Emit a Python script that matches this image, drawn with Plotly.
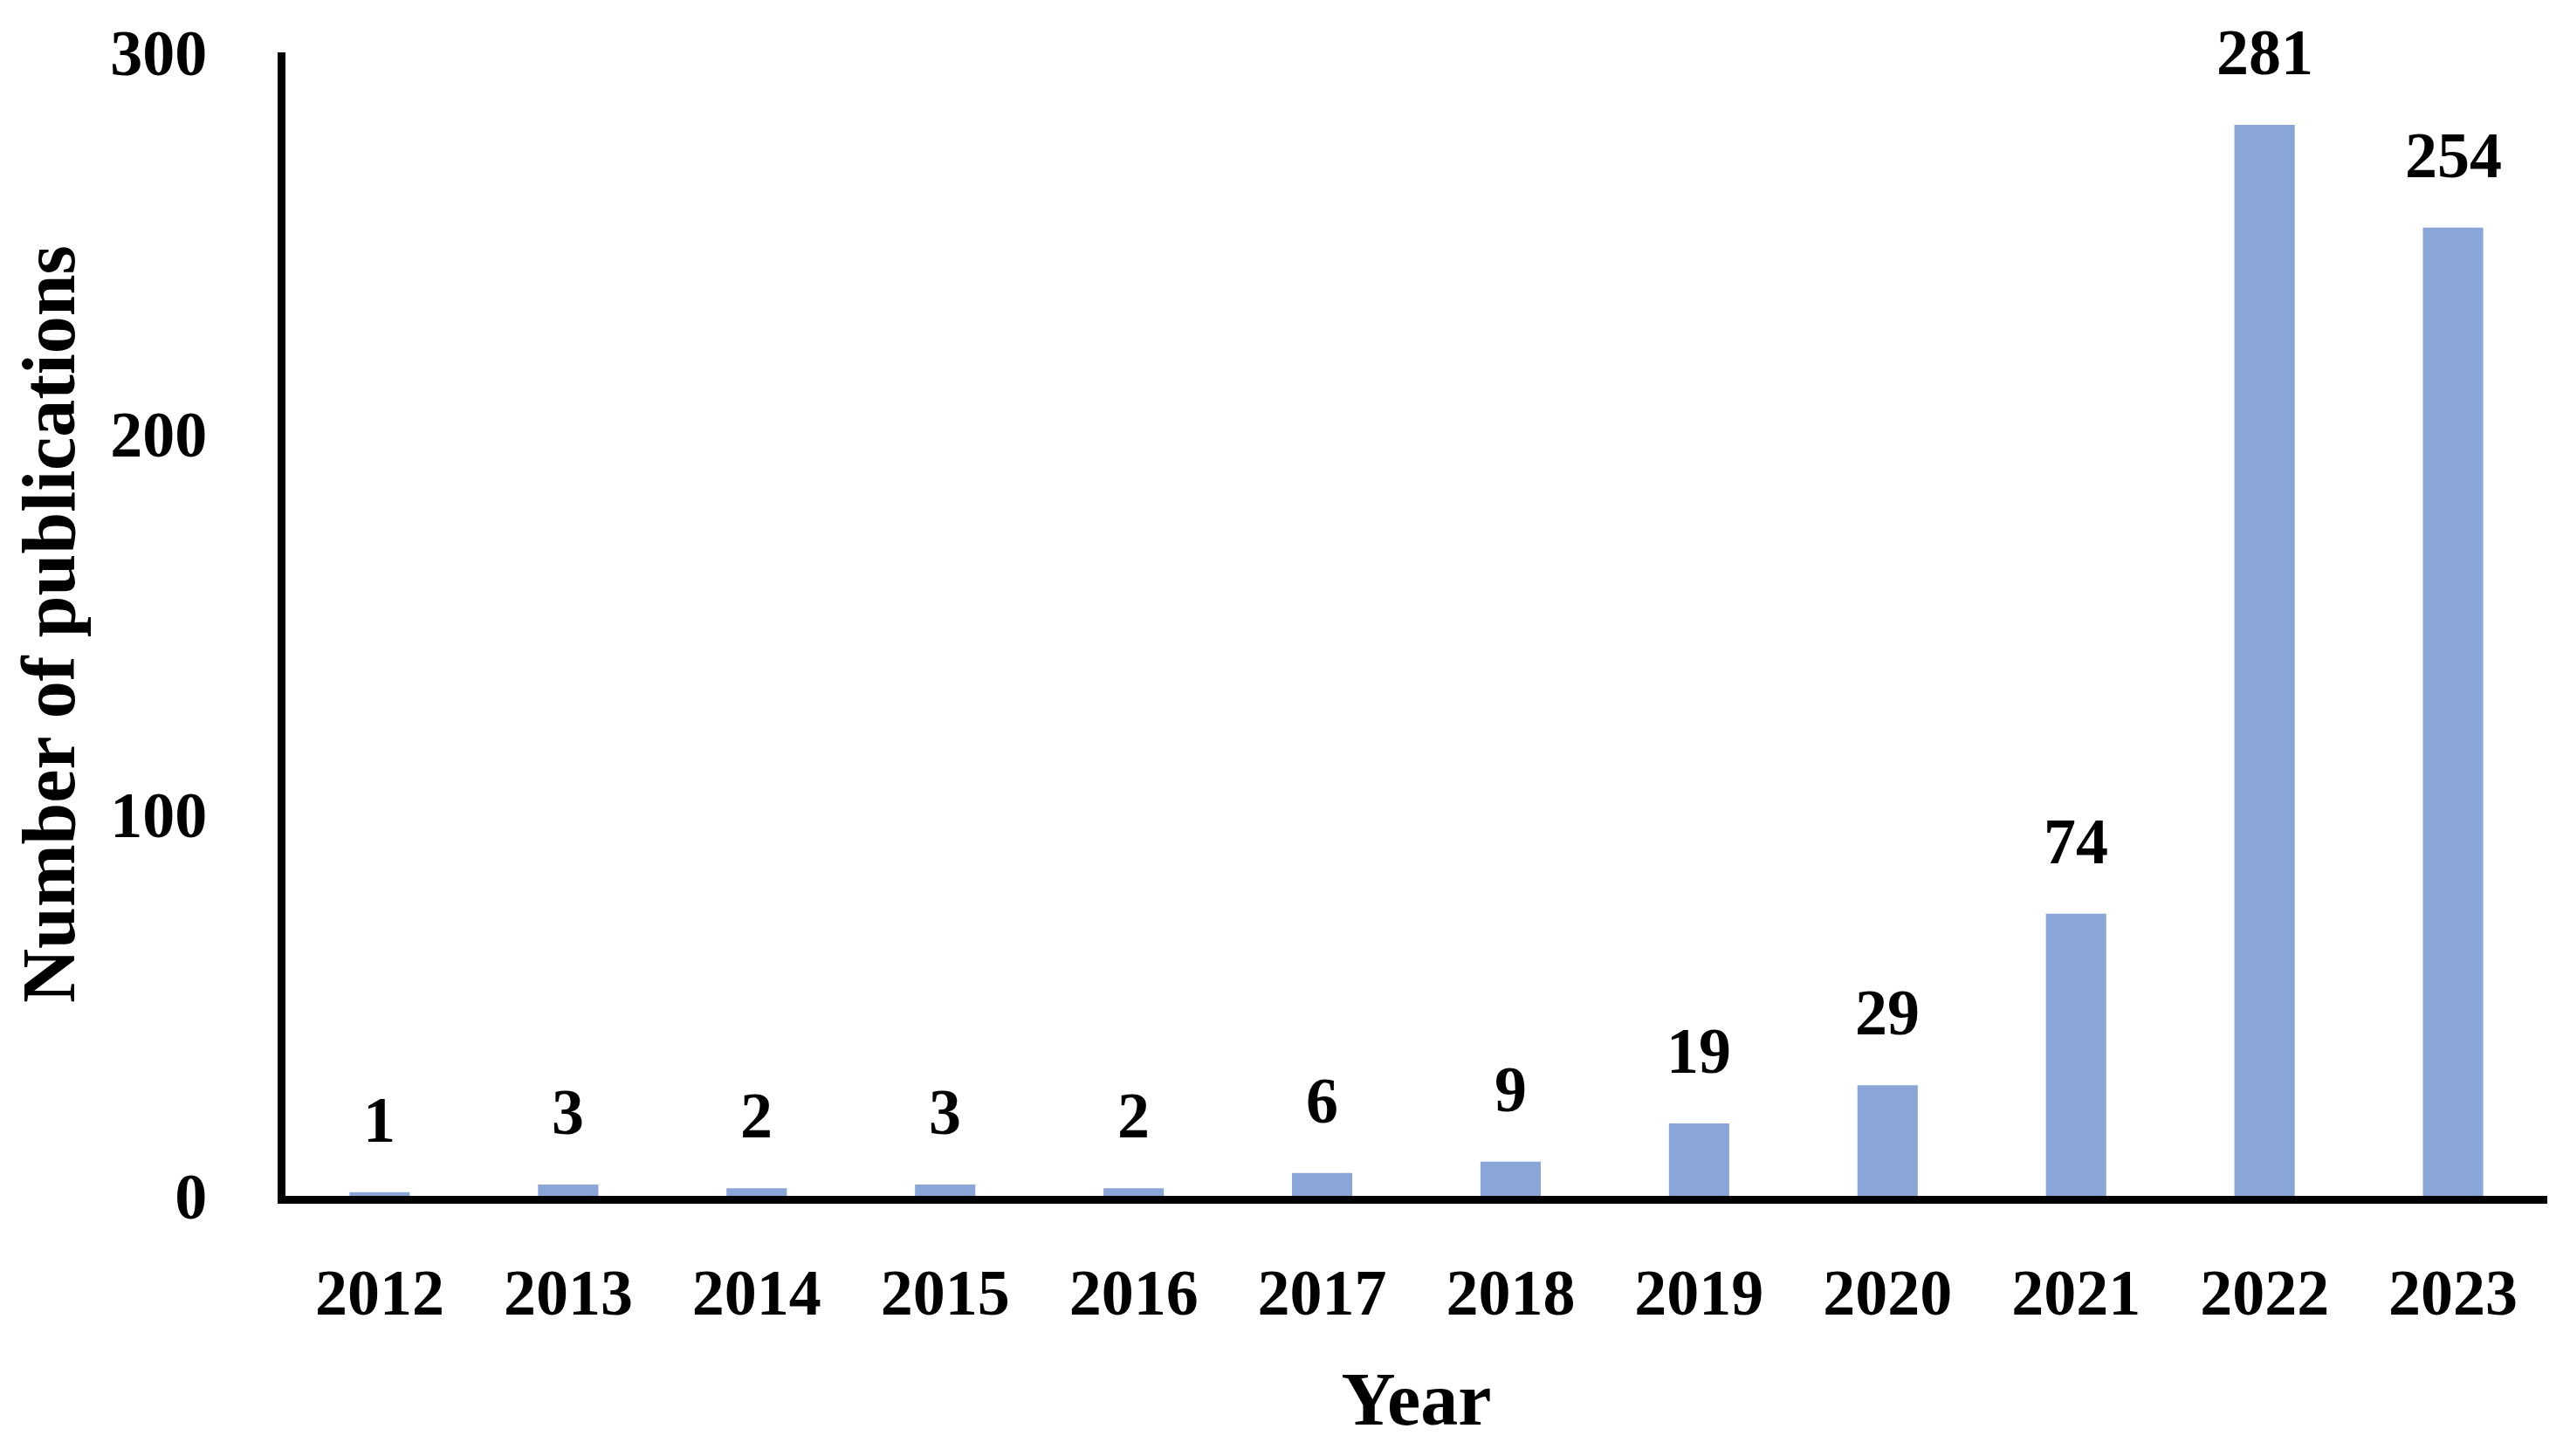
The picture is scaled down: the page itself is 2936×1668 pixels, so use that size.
import plotly.graph_objects as go

years = ["2012", "2013", "2014", "2015", "2016", "2017",
         "2018", "2019", "2020", "2021", "2022", "2023"]
publications = [1, 3, 2, 3, 2, 6, 9, 19, 29, 74, 281, 254]
y_ticks = [0, 100, 200, 300]

FONT = "Liberation Serif"
BAR_COLOR = "#8aa5d8"

fig = go.Figure()
fig.add_trace(go.Bar(
    x=years,
    y=publications,
    marker=dict(color=BAR_COLOR, line=dict(width=0)),
    width=0.32,
    showlegend=False,
))

for i, v in enumerate(publications):
    fig.add_annotation(
        x=i, y=v, xref="x", yref="y", text=f"<b>{v}</b>", showarrow=False,
        xanchor="center", yanchor="bottom", yshift=40,
        font=dict(family=FONT, size=74, color="black"),
    )

fig.update_layout(
    width=2936, height=1668,
    margin=dict(l=319, r=26, t=52, b=306),
    paper_bgcolor="white", plot_bgcolor="white",
    bargap=0.68,
    font=dict(family=FONT, color="black"),
    xaxis=dict(
        type="category",
        range=[-0.5, 11.5],
        showline=True, linecolor="black", linewidth=9,
        showgrid=False, zeroline=False, ticks="",
        tickfont=dict(family=FONT, size=74, color="black", weight="bold"),
        ticklabelstandoff=38,
        title=dict(text="<b>Year</b>", font=dict(family=FONT, size=86, color="black"), standoff=55),
    ),
    yaxis=dict(
        range=[0, 300],
        tickvals=y_ticks,
        showline=True, linecolor="black", linewidth=9,
        showgrid=False, zeroline=False, ticks="",
        tickfont=dict(family=FONT, size=74, color="black", weight="bold"),
        ticklabelstandoff=66,
        title=dict(text="<b>Number of publications</b>", font=dict(family=FONT, size=86, color="black"), standoff=42),
    ),
)

fig.write_html("out.html")
